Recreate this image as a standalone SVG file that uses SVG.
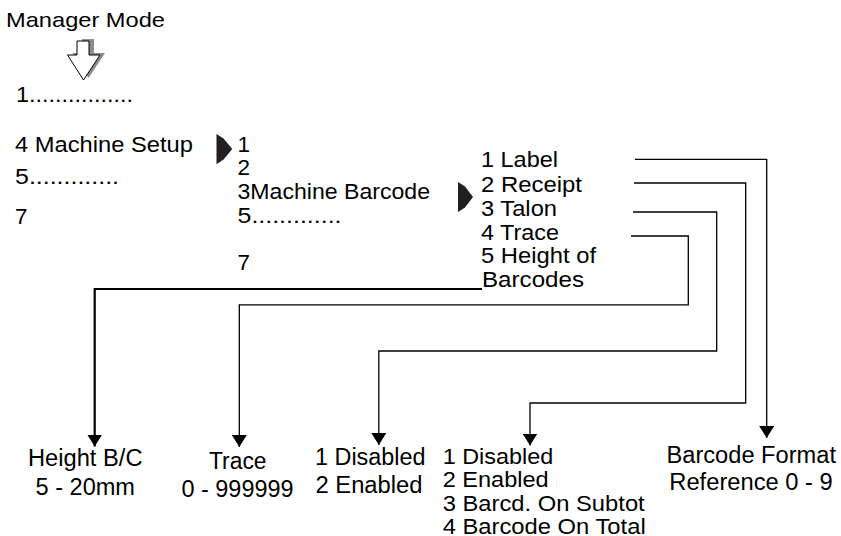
<svg xmlns="http://www.w3.org/2000/svg" width="841" height="536" viewBox="0 0 841 536">
<style>
text{font-family:"Liberation Sans",Arial,sans-serif;fill:#000;}
.t20{font-size:21px;}
.t21{font-size:22.5px;}
.t3{font-size:21.5px;}
.t22{font-size:23.5px;}
.t4{font-size:22px;}
.conn{fill:none;stroke:#000;stroke-width:1.3;}
.thick{fill:none;stroke:#000;stroke-width:2.2;}
.dark{fill:#231f20;}
</style>
<defs>
<marker id="ah" viewBox="0 0 12 15" refX="12" refY="7.5" markerWidth="12" markerHeight="15" markerUnits="userSpaceOnUse" orient="auto">
<path d="M0,0 L12,7.5 L0,15 Z" fill="#000"/>
</marker>
</defs>

<g id="manager-mode">
<text class="t20" x="6" y="27" textLength="159" lengthAdjust="spacingAndGlyphs">Manager Mode</text>
<polygon points="82,39 94,39 94,53 105,53 88.5,78 72.5,53 82,53" fill="#8c8c8c"/>
<polygon points="77,41 89,41 89,55 100,55 83.5,80 67.5,55 77,55" fill="#fff" stroke="#000" stroke-width="1"/>
</g>

<g id="menu-level1">
<text class="t21" x="16" y="102" textLength="117" lengthAdjust="spacingAndGlyphs">1................</text>
<text class="t21" x="15" y="152" textLength="178" lengthAdjust="spacingAndGlyphs">4 Machine Setup</text>
<text class="t21" x="15" y="183.5" textLength="104" lengthAdjust="spacingAndGlyphs">5.............</text>
<text class="t21" x="15" y="223.5">7</text>
</g>

<g id="arrow1">
<polygon class="dark" points="216.5,134 223.5,138.5 232.3,149 223.5,159.5 216.5,164.3"/>
</g>

<g id="menu-level2">
<text class="t21" x="237.5" y="151.7">1</text>
<text class="t21" x="237.5" y="175">2</text>
<text class="t21" x="237.5" y="199.3" textLength="192.5" lengthAdjust="spacingAndGlyphs">3Machine Barcode</text>
<text class="t21" x="237.5" y="223.3" textLength="104" lengthAdjust="spacingAndGlyphs">5.............</text>
<text class="t21" x="237.5" y="269.5">7</text>
</g>

<g id="arrow2">
<polygon class="dark" points="458,182 465,186.5 473,197 465,207.5 458,212"/>
</g>

<g id="menu-level3">
<text class="t3" x="481" y="167.3" textLength="77" lengthAdjust="spacingAndGlyphs">1 Label</text>
<text class="t3" x="481" y="191.5" textLength="101" lengthAdjust="spacingAndGlyphs">2 Receipt</text>
<text class="t3" x="481" y="215.7" textLength="76" lengthAdjust="spacingAndGlyphs">3 Talon</text>
<text class="t3" x="481" y="239.7" textLength="78" lengthAdjust="spacingAndGlyphs">4 Trace</text>
<text class="t3" x="481" y="263.3" textLength="115" lengthAdjust="spacingAndGlyphs">5 Height of</text>
<text class="t3" x="482" y="287.3" textLength="102" lengthAdjust="spacingAndGlyphs">Barcodes</text>
</g>

<g id="connectors">
<path class="thick" d="M482,289 H94.7 V446.5" marker-end="url(#ah)"/>
<path class="conn" d="M631,236 H688.3 V304.8 H239.3 V447" marker-end="url(#ah)"/>
<path class="conn" d="M633,212 H716.7 V351 H378.8 V445" marker-end="url(#ah)"/>
<path class="conn" d="M634,183 H745.7 V403 H530 V445.5" marker-end="url(#ah)"/>
<path class="conn" d="M635,159.3 H766.7 V438" marker-end="url(#ah)"/>
</g>

<g id="height-bc">
<text class="t22" x="28" y="465.7" textLength="114.5" lengthAdjust="spacingAndGlyphs">Height B/C</text>
<text class="t22" x="35.5" y="495" textLength="99.5" lengthAdjust="spacingAndGlyphs">5 - 20mm</text>
</g>

<g id="trace">
<text class="t22" x="209" y="469" textLength="57.5" lengthAdjust="spacingAndGlyphs">Trace</text>
<text class="t22" x="181.5" y="497.3" textLength="112" lengthAdjust="spacingAndGlyphs">0 - 999999</text>
</g>

<g id="talon-options">
<text class="t22" x="315" y="465" textLength="110.5" lengthAdjust="spacingAndGlyphs">1 Disabled</text>
<text class="t22" x="315.5" y="492.7" textLength="107" lengthAdjust="spacingAndGlyphs">2 Enabled</text>
</g>

<g id="receipt-options">
<text class="t4" x="442.7" y="463.5" textLength="110.5" lengthAdjust="spacingAndGlyphs">1 Disabled</text>
<text class="t4" x="442.7" y="487" textLength="106" lengthAdjust="spacingAndGlyphs">2 Enabled</text>
<text class="t4" x="442.7" y="510.5" textLength="202" lengthAdjust="spacingAndGlyphs">3 Barcd. On Subtot</text>
<text class="t4" x="442.7" y="533.5" textLength="203" lengthAdjust="spacingAndGlyphs">4 Barcode On Total</text>
</g>

<g id="label-format">
<text class="t22" x="666.5" y="462.7" textLength="169.5" lengthAdjust="spacingAndGlyphs">Barcode Format</text>
<text class="t22" x="669.3" y="490" textLength="163.5" lengthAdjust="spacingAndGlyphs">Reference 0 - 9</text>
</g>
</svg>
